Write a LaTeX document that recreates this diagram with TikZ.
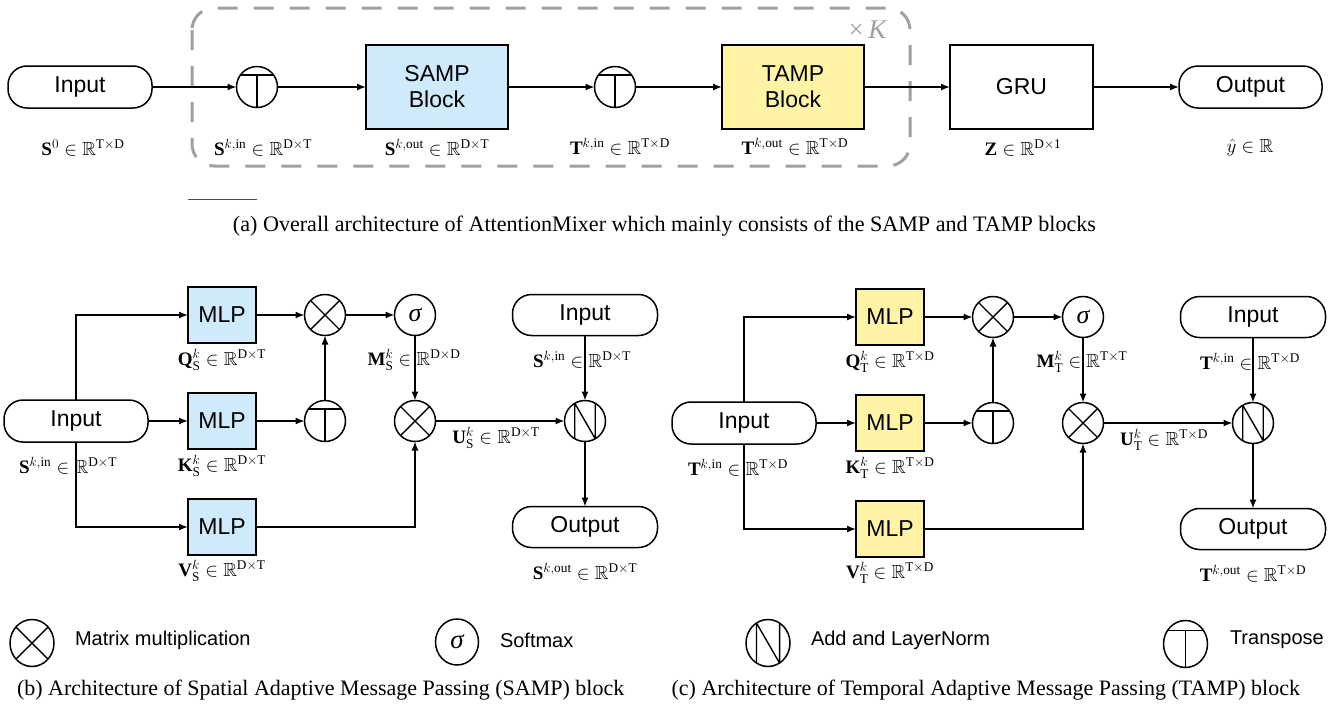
\RequirePackage{fix-cm}
\documentclass[tikz,border=0pt]{standalone}
\usepackage{amsmath,amssymb}
\usepackage{fontspec}
\setmainfont{Liberation Serif}
\setsansfont{Liberation Sans}
\usetikzlibrary{arrows.meta,shapes.geometric}
\definecolor{sampblue}{RGB}{206,234,251}
\definecolor{tampyellow}{RGB}{255,244,166}
\definecolor{dashgray}{RGB}{160,160,160}
\newcommand{\RR}{\mathbb{R}}
\newcommand{\mulsym}[1]{\draw[ln] (#1.45)--(#1.225) (#1.135)--(#1.315);}
\newcommand{\trsym}[1]{\draw[ln] (#1.144)--(#1.36) (#1.south)--(#1.south|-#1.36);}
\newcommand{\addsym}[1]{\draw[ln] (#1.120)--(#1.240) (#1.60)--(#1.300) (#1.120)--(#1.300);}
\begin{document}
\begin{tikzpicture}[x=1pt,y=-1pt,
  every node/.style={inner sep=0pt, outer sep=0pt},
  arr/.style={-{Latex[length=9pt,width=7pt]}, line width=1.4pt},
  ln/.style={line width=1.4pt},
  oval/.style={draw, line width=1.5pt, rounded corners=19pt, minimum width=144pt, minimum height=42pt, font=\sffamily\fontsize{23}{26}\selectfont},
  blk/.style={draw, line width=1.6pt, font=\sffamily\fontsize{23}{26}\selectfont, align=center},
  mlp/.style={blk, minimum width=68pt, minimum height=56pt},
  opc/.style={circle, draw, line width=1.5pt, minimum size=41pt},
  sig/.style={opc, font=\itshape\fontsize{26}{28}\selectfont},
  lgc/.style={ellipse, draw, line width=1.5pt, minimum width=44pt, minimum height=47pt},
  lbl/.style={font=\fontsize{19}{22}\selectfont},
  legtxt/.style={anchor=west, font=\sffamily\fontsize{20}{24}\selectfont},
  captxt/.style={font=\fontsize{22.1}{26}\selectfont},
  captxtb/.style={font=\fontsize{22}{26}\selectfont},
]
\useasboundingbox (0,0) rectangle (1344,713);

% ---------- (a) ----------
\draw[dashgray, line width=3pt, dash pattern=on 20pt off 16pt, rounded corners=22pt] (192,8) rectangle (910,166);
\node[text=dashgray, font=\fontsize{27}{30}\selectfont] (xK) at (868,30) {×\,\textit{K}};

\node[oval] (aIn) at (80,87) {Input};
\node[opc] (aT1) at (257,87) {};
\trsym{aT1}
\node[blk, fill=sampblue, minimum width=142pt, minimum height=84pt] (samp) at (437,87) {SAMP\\Block};
\node[opc] (aT2) at (615,87) {};
\trsym{aT2}
\node[blk, fill=tampyellow, minimum width=142pt, minimum height=84pt] (tamp) at (793,87) {TAMP\\Block};
\node[blk, minimum width=143pt, minimum height=84pt] (gru) at (1021.5,87) {GRU};
\node[oval, minimum width=143pt] (aOut) at (1250.5,87) {Output};

\draw[arr] (aIn) -- (aT1);
\draw[arr] (aT1) -- (samp);
\draw[arr] (samp) -- (aT2);
\draw[arr] (aT2) -- (tamp);
\draw[arr] (tamp) -- (gru);
\draw[arr] (gru) -- (aOut);

\node[lbl] (aL1) at (83,148) {$\mathbf{S}^{0}\in\RR^{\mathrm{T\times D}}$};
\node[lbl] (aL2) at (263,148) {$\mathbf{S}^{k,\mathrm{in}}\in\RR^{\mathrm{D\times T}}$};
\node[lbl] (aL3) at (437,148) {$\mathbf{S}^{k,\mathrm{out}}\in\RR^{\mathrm{D\times T}}$};
\node[lbl] (aL4) at (620,147) {$\mathbf{T}^{k,\mathrm{in}}\in\RR^{\mathrm{T\times D}}$};
\node[lbl] (aL5) at (795,147) {$\mathbf{T}^{k,\mathrm{out}}\in\RR^{\mathrm{T\times D}}$};
\node[lbl] (aL6) at (1023,148) {$\mathbf{Z}\in\RR^{\mathrm{D\times 1}}$};
\node[lbl] (aL7) at (1250,148) {$\hat{y}\in\RR$};

\draw[line width=0.8pt, black!70] (188,199) -- (257,199);
\node[captxt] (capA) at (664.5,226) {(a) Overall architecture of AttentionMixer which mainly consists of the SAMP and TAMP blocks};

% ---------- (b) ----------
\node[oval] (bIn) at (76,421) {Input};
\node[mlp, fill=sampblue] (bQ) at (222,315) {MLP};
\node[mlp, fill=sampblue] (bK) at (222,421) {MLP};
\node[mlp, fill=sampblue] (bV) at (222,527) {MLP};
\node[opc] (bM1) at (325,315) {};
\mulsym{bM1}
\node[opc] (bT) at (325,421) {};
\trsym{bT}
\node[sig] (bS) at (415,315) {σ};
\node[opc] (bM2) at (415,421) {};
\mulsym{bM2}
\node[oval, minimum width=145pt, minimum height=41pt] (bIn2) at (585,315) {Input};
\node[opc] (bAdd) at (585,421) {};
\addsym{bAdd}
\node[oval, minimum width=145pt, minimum height=41pt] (bOut) at (585,527) {Output};

\draw[arr] (bIn.north) |- (bQ.west);
\draw[arr] (bIn) -- (bK);
\draw[arr] (bIn.south) |- (bV.west);
\draw[arr] (bQ) -- (bM1);
\draw[arr] (bK) -- (bT);
\draw[arr] (bT) -- (bM1);
\draw[arr] (bM1) -- (bS);
\draw[arr] (bS) -- (bM2);
\draw[arr] (bV.east) -| (bM2.south);
\draw[arr] (bM2) -- (bAdd);
\draw[arr] (bIn2) -- (bAdd);
\draw[arr] (bAdd) -- (bOut);

\node[lbl] (bL1) at (68,466) {$\mathbf{S}^{k,\mathrm{in}}\in\RR^{\mathrm{D\times T}}$};
\node[lbl] (bL2) at (222,360) {$\mathbf{Q}^{k}_{\mathrm{S}}\in\RR^{\mathrm{D\times T}}$};
\node[lbl] (bL3) at (222,466) {$\mathbf{K}^{k}_{\mathrm{S}}\in\RR^{\mathrm{D\times T}}$};
\node[lbl] (bL4) at (222,571) {$\mathbf{V}^{k}_{\mathrm{S}}\in\RR^{\mathrm{D\times T}}$};
\node[lbl] (bL5) at (414,360) {$\mathbf{M}^{k}_{\mathrm{S}}\in\RR^{\mathrm{D\times D}}$};
\node[lbl] (bL6) at (582,360) {$\mathbf{S}^{k,\mathrm{in}}\in\RR^{\mathrm{D\times T}}$};
\node[lbl] (bL7) at (496,438) {$\mathbf{U}^{k}_{\mathrm{S}}\in\RR^{\mathrm{D\times T}}$};
\node[lbl] (bL8) at (585,572) {$\mathbf{S}^{k,\mathrm{out}}\in\RR^{\mathrm{D\times T}}$};

% ---------- (c) ----------
\begin{scope}[shift={(668,2)}]
\node[oval] (cIn) at (76,421) {Input};
\node[mlp, fill=tampyellow] (cQ) at (222,315) {MLP};
\node[mlp, fill=tampyellow] (cK) at (222,421) {MLP};
\node[mlp, fill=tampyellow] (cV) at (222,527) {MLP};
\node[opc] (cM1) at (325,315) {};
\mulsym{cM1}
\node[opc] (cT) at (325,421) {};
\trsym{cT}
\node[sig] (cS) at (415,315) {σ};
\node[opc] (cM2) at (415,421) {};
\mulsym{cM2}
\node[oval, minimum width=145pt, minimum height=41pt] (cIn2) at (585,315) {Input};
\node[opc] (cAdd) at (585,421) {};
\addsym{cAdd}
\node[oval, minimum width=145pt, minimum height=41pt] (cOut) at (585,527) {Output};

\draw[arr] (cIn.north) |- (cQ.west);
\draw[arr] (cIn) -- (cK);
\draw[arr] (cIn.south) |- (cV.west);
\draw[arr] (cQ) -- (cM1);
\draw[arr] (cK) -- (cT);
\draw[arr] (cT) -- (cM1);
\draw[arr] (cM1) -- (cS);
\draw[arr] (cS) -- (cM2);
\draw[arr] (cV.east) -| (cM2.south);
\draw[arr] (cM2) -- (cAdd);
\draw[arr] (cIn2) -- (cAdd);
\draw[arr] (cAdd) -- (cOut);

\node[lbl] (cL1) at (70,466) {$\mathbf{T}^{k,\mathrm{in}}\in\RR^{\mathrm{T\times D}}$};
\node[lbl] (cL2) at (222,360) {$\mathbf{Q}^{k}_{\mathrm{T}}\in\RR^{\mathrm{T\times D}}$};
\node[lbl] (cL3) at (222,466) {$\mathbf{K}^{k}_{\mathrm{T}}\in\RR^{\mathrm{T\times D}}$};
\node[lbl] (cL4) at (222,571) {$\mathbf{V}^{k}_{\mathrm{T}}\in\RR^{\mathrm{T\times D}}$};
\node[lbl] (cL5) at (414,360) {$\mathbf{M}^{k}_{\mathrm{T}}\in\RR^{\mathrm{T\times T}}$};
\node[lbl] (cL6) at (582,360) {$\mathbf{T}^{k,\mathrm{in}}\in\RR^{\mathrm{T\times D}}$};
\node[lbl] (cL7) at (496,438) {$\mathbf{U}^{k}_{\mathrm{T}}\in\RR^{\mathrm{T\times D}}$};
\node[lbl] (cL8) at (585,572) {$\mathbf{T}^{k,\mathrm{out}}\in\RR^{\mathrm{T\times D}}$};
\end{scope}

% ---------- legend ----------
\node[lgc] (lgM) at (32,643) {};
\mulsym{lgM}
\node[legtxt] (lgMt) at (75,640) {Matrix multiplication};
\node[lgc, minimum width=43pt, minimum height=46pt, font=\itshape\fontsize{27}{29}\selectfont] (lgS) at (457,642) {σ};
\node[legtxt] (lgSt) at (500,640) {Softmax};
\node[lgc] (lgA) at (768,643) {};
\addsym{lgA}
\node[legtxt] (lgAt) at (811,640) {Add and LayerNorm};
\node[lgc] (lgT) at (1185.5,644) {};
\trsym{lgT}
\node[legtxt] (lgTt) at (1230,640) {Transpose};

\node[captxtb, anchor=west] (capB) at (17,690) {(b) Architecture of Spatial Adaptive Message Passing (SAMP) block};
\node[captxtb, anchor=east] (capC) at (1300,690) {(c) Architecture of Temporal Adaptive Message Passing (TAMP) block};
\end{tikzpicture}
\end{document}
